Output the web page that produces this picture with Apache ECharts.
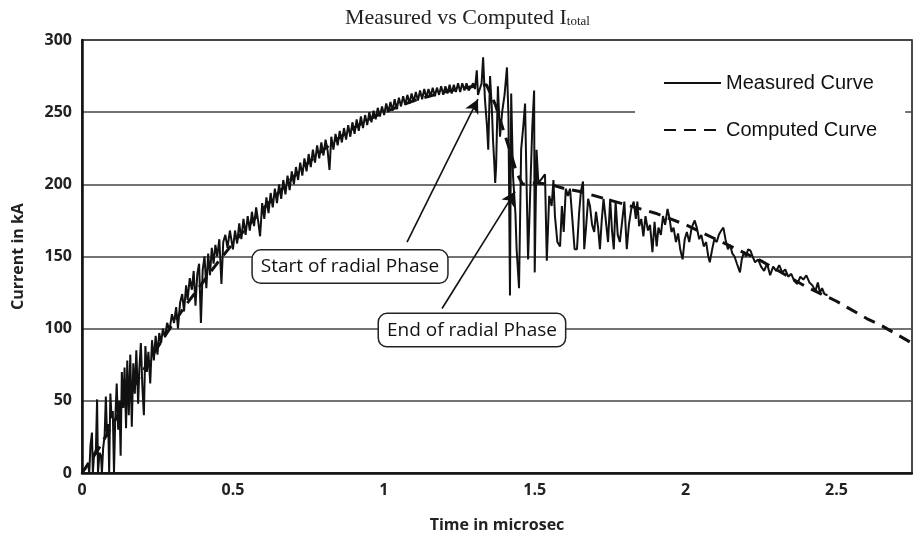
<!DOCTYPE html>
<html>
<head>
<meta charset="utf-8">
<script src="https://cdn.jsdelivr.net/npm/echarts@6/dist/echarts.min.js"></script>
<style>html,body{margin:0;padding:0;background:#fff}#c{width:913px;height:538px}</style>
</head>
<body>
<div id="c"></div>
<script>
// ---- Data (time in microsec, current in kA) ----
const xTicks = [0, 0.5, 1, 1.5, 2, 2.5];
const yTicks = [0, 50, 100, 150, 200, 250, 300];

const computedCurve = [
  [0,0],[0.05,15],[0.1,33],[0.15,52],[0.2,70],[0.25,87],[0.3,103],[0.35,118],[0.4,132],[0.45,146],
  [0.5,159],[0.55,171],[0.6,183],[0.65,194],[0.7,205],[0.75,215],[0.8,224],[0.85,232],[0.9,239],
  [0.95,245],[1.0,250],[1.05,254],[1.1,258],[1.15,261],[1.2,264],[1.25,266],[1.3,268],[1.34,269],
  [1.37,255],[1.4,235],[1.42,222],[1.44,208],[1.46,200],[1.5,201],[1.55,200],[1.6,197],[1.65,195],
  [1.7,192],[1.75,189],[1.8,186],[1.85,183],[1.9,180],[1.95,176],[2.0,172],[2.05,167],[2.1,162],
  [2.15,157],[2.2,152],[2.25,147],[2.3,141],[2.35,135],[2.4,129],[2.45,124],[2.5,119],[2.55,113],
  [2.6,107],[2.65,102],[2.7,96],[2.75,90]
];

const measuredStart = [
  [0,0],[0.012,4],[0.02,7],[0.024,0],[0.028,19],[0.033,28],[0.036,0],[0.04,13],[0.046,16],[0.05,51],
  [0.053,0],[0.058,14],[0.063,12],[0.066,0],[0.07,17],[0.075,26],[0.079,53],[0.083,25],[0.087,34],
  [0.09,0],[0.094,55],[0.098,38],[0.102,43],[0.106,0],[0.11,36],[0.115,62],[0.12,30],[0.124,50],
  [0.128,12],[0.132,70],[0.137,45],[0.141,73],[0.146,31],[0.15,78]
];
const measuredRise = [
  [0.155,40],[0.16,82],[0.165,32],[0.17,76],[0.175,55],[0.18,85],[0.186,48],[0.19,72],[0.195,90],
  [0.2,60],[0.205,40],[0.21,88],[0.215,70],[0.22,84],[0.226,62],[0.232,92],[0.238,78],[0.244,95],
  [0.25,82],[0.256,97],[0.262,90],[0.268,100],[0.275,94],[0.282,104],[0.29,99],[0.298,110],
  [0.305,104],[0.312,115],[0.318,100],[0.325,118],[0.332,124],[0.338,112],[0.345,130],[0.35,120],
  [0.357,135],[0.364,127],[0.37,140],[0.376,116],[0.382,138],[0.388,145],[0.394,104],[0.4,141],
  [0.406,150],[0.412,128],[0.418,152],[0.424,137],[0.43,156],[0.436,145],[0.442,158],[0.448,150],
  [0.455,162],[0.462,131],[0.468,160],[0.475,165],[0.482,156],[0.49,168]
];
const measuredPlateau = [
  [0.5,155],[0.507,168],[0.514,159],[0.521,173],[0.528,162],[0.535,176],[0.542,165],[0.549,178],
  [0.556,168],[0.563,181],[0.57,171],[0.577,184],[0.584,174],[0.59,164],[0.597,187],[0.604,176],
  [0.611,191],[0.618,180],[0.625,194],[0.632,184],[0.639,197],[0.646,187],[0.653,200],[0.66,190],
  [0.667,203],[0.674,193],[0.681,206],[0.688,196],[0.695,209],[0.702,200],[0.709,212],[0.716,203],
  [0.723,215],[0.73,206],[0.737,218],[0.744,209],[0.751,221],[0.758,212],[0.765,224],[0.772,215],
  [0.779,227],[0.786,218],[0.793,229],[0.8,220],[0.807,231],[0.814,223],[0.82,210],[0.826,233],
  [0.833,224],[0.84,235],[0.847,227],[0.854,237],[0.861,229],[0.868,239],[0.875,231],[0.882,241],
  [0.889,233],[0.896,243],[0.903,235],[0.91,245],[0.917,237],[0.924,247],[0.931,239],[0.938,248],
  [0.945,241],[0.952,250],[0.959,243],[0.966,251],[0.973,245],[0.98,253],[0.987,247],[0.994,254],
  [1.001,248],[1.008,256],[1.015,250],[1.022,257],[1.029,251],[1.036,259],[1.043,252],[1.05,260],
  [1.057,254],[1.064,261],[1.071,255],[1.078,262],[1.085,256],[1.092,263],[1.099,257],[1.106,264],
  [1.113,258],[1.12,265],[1.127,259],[1.134,266],[1.141,260],[1.148,266],[1.155,261],[1.162,267],
  [1.169,261],[1.176,267],[1.183,262],[1.19,268],[1.197,262],[1.204,268],[1.211,263],[1.218,269],
  [1.225,263],[1.232,269],[1.239,264],[1.246,270],[1.253,264],[1.26,270],[1.267,265],[1.274,270],
  [1.281,265],[1.29,268]
];
const measuredRadial = [
  [1.296,270],[1.302,266],[1.308,279],[1.312,262],[1.318,266],[1.324,270],[1.329,288],[1.335,259],
  [1.342,240],[1.346,224],[1.352,275],[1.358,252],[1.362,230],[1.366,215],[1.369,201],[1.372,212],
  [1.378,268],[1.385,233],[1.392,250],[1.4,262],[1.408,281],[1.413,247],[1.418,123],[1.422,263],
  [1.428,206],[1.436,180],[1.44,155],[1.448,128],[1.455,224],[1.462,240],[1.468,256],[1.473,200],
  [1.478,148],[1.486,201],[1.492,240],[1.498,265],[1.5,139],[1.506,224],[1.512,201],[1.52,203],
  [1.527,205],[1.534,207],[1.54,147]
];
const measuredDecay = [
  [1.548,192],[1.556,185],[1.562,203],[1.567,178],[1.575,160],[1.584,157],[1.59,185],[1.596,167],
  [1.603,197],[1.61,192],[1.617,197],[1.625,175],[1.632,155],[1.64,155],[1.647,180],[1.653,195],
  [1.66,202],[1.664,155],[1.67,170],[1.677,190],[1.683,185],[1.69,172],[1.697,167],[1.703,181],
  [1.71,170],[1.716,155],[1.722,175],[1.728,190],[1.735,176],[1.743,160],[1.75,190],[1.756,168],
  [1.762,155],[1.768,188],[1.775,165],[1.782,160],[1.79,175],[1.797,188],[1.805,155],[1.812,172],
  [1.82,183],[1.828,188],[1.835,176],[1.84,188],[1.846,171],[1.853,176],[1.86,164],[1.867,178],
  [1.875,168],[1.882,172],[1.89,153],[1.897,174],[1.904,157],[1.91,170],[1.918,165],[1.925,178],
  [1.932,172],[1.94,183],[1.947,176],[1.953,167],[1.96,170],[1.968,160],[1.975,166],[1.982,155],
  [1.99,148],[1.997,162],[2.004,167],[2.012,160],[2.02,170],[2.03,175],[2.037,170],[2.045,162],
  [2.052,165],[2.06,157],[2.068,160],[2.075,150],[2.08,146],[2.088,155],[2.095,162],[2.103,160],
  [2.11,165],[2.118,168],[2.125,170],[2.132,162],[2.14,155],[2.147,158],[2.155,152],[2.162,150],
  [2.17,145],[2.18,139],[2.186,148],[2.193,153],[2.2,150],[2.207,155],[2.215,154],[2.222,150],
  [2.23,146],[2.24,148],[2.25,143],[2.26,140],[2.27,145],[2.28,137],[2.29,143],[2.3,140],
  [2.31,144],[2.32,139],[2.33,141],[2.34,136],[2.35,138],[2.36,133],[2.37,131],[2.38,136],
  [2.39,134],[2.4,137],[2.41,132],[2.42,130],[2.43,126],[2.438,132],[2.445,125],[2.452,128],
  [2.46,124],[2.47,123]
];
const measuredCurve = measuredStart.concat(measuredRise, measuredPlateau, measuredRadial, measuredDecay);

// annotations (data coordinates)
const startArrow = [[1.077,160],[1.312,259]];
const endArrow = [[1.193,114],[1.435,195]];
const startLabel = {text:'Start of radial Phase', at:[0.888,143]};
const endLabel = {text:'End of radial Phase', at:[1.292,99]};

const chart = echarts.init(document.getElementById('c'), null, {renderer:'canvas'});
const sans = "'Open Sans', 'DejaVu Sans', sans-serif";
const serif = "'Liberation Serif', 'Times New Roman', serif";
const boxLabel = {
  show:true, position:'inside', color:'#111', fontFamily:sans, fontSize:19,
  backgroundColor:'#fff', borderColor:'#222', borderWidth:1.5, borderRadius:8,
  padding:[7,8,6,8]
};
chart.setOption({
  animation:false,
  backgroundColor:'#fff',
  title:{
    text:'{m|Measured vs Computed I}{s|total}',
    left:340, top:2,
    textStyle:{fontWeight:'normal', rich:{
      m:{fontFamily:serif, fontWeight:'normal', fontSize:22, color:'#222'},
      s:{fontFamily:serif, fontWeight:'normal', fontSize:13, color:'#222', padding:[8,0,0,0]}
    }}
  },
  legend:{
    data:['Measured Curve','Computed Curve'],
    orient:'vertical', left:635, top:60,
    itemWidth:57, itemHeight:14, itemGap:27,
    itemStyle:{opacity:0},
    backgroundColor:'#fff', padding:[13,28,13,28],
    textStyle:{fontFamily:"'Liberation Sans', Arial, sans-serif", fontSize:20, color:'#111'}
  },
  grid:{left:82, right:1, top:40, bottom:63, show:true, borderColor:'#111', borderWidth:1.5, backgroundColor:'transparent'},
  xAxis:{
    type:'value', min:xTicks[0], max:2.75, interval:0.5,
    axisLine:{lineStyle:{color:'#111', width:2.5}},
    axisTick:{show:false}, splitLine:{show:false},
    axisLabel:{showMaxLabel:false, margin:9, color:'#222', fontFamily:sans, fontWeight:'bold', fontSize:16},
    name:'Time in microsec', nameLocation:'middle', nameGap:44,
    nameTextStyle:{color:'#222', fontFamily:sans, fontWeight:'bold', fontSize:16}
  },
  yAxis:{
    type:'value', min:yTicks[0], max:yTicks[yTicks.length-1], interval:50,
    axisLine:{show:true, lineStyle:{color:'#111', width:2.5}},
    axisTick:{show:false},
    splitLine:{lineStyle:{color:'#444', width:1.5}},
    axisLabel:{margin:10, color:'#222', fontFamily:sans, fontWeight:'bold', fontSize:16},
    name:'Current in kA', nameLocation:'middle', nameGap:56, nameRotate:90,
    nameTextStyle:{color:'#222', fontFamily:sans, fontWeight:'bold', fontSize:16}
  },
  series:[
    {
      name:'Computed Curve', type:'line', data:computedCurve, symbol:'none', smooth:false,
      lineStyle:{color:'#111', width:3, type:[12,8]}, itemStyle:{color:'#111'}, z:2
    },
    {
      name:'Measured Curve', type:'line', data:measuredCurve, symbol:'none',
      lineStyle:{color:'#111', width:2}, itemStyle:{color:'#111'}, z:3,
      markLine:{
        silent:true, symbol:['none','arrow'], symbolSize:[11,14],
        lineStyle:{color:'#111', width:1.6, type:'solid'}, label:{show:false},
        data:[
          [{coord:startArrow[0]},{coord:startArrow[1]}],
          [{coord:endArrow[0]},{coord:endArrow[1]}]
        ]
      },
      markPoint:{
        silent:true, symbol:'rect', symbolSize:1, itemStyle:{color:'rgba(0,0,0,0)'},
        label:boxLabel,
        data:[
          {coord:startLabel.at, label:{formatter:startLabel.text}},
          {coord:endLabel.at, label:{formatter:endLabel.text}}
        ]
      }
    }
  ]
});
</script>
</body>
</html>
